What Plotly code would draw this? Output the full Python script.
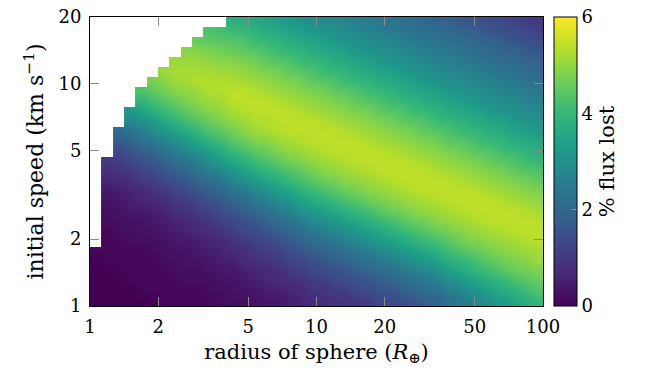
import numpy as np
import plotly.graph_objects as go

N = None  # no data (white region)

# % flux lost, one list per radius column (from R=1 to R=100, log-spaced),
# each listing values from the lowest speed (1 km/s) up to 20 km/s.
c00 = [0.0,0.0,0.0,0.0,0.0,0.1] + [N]*23
c01 = [0.0,0.0,0.0,0.0,0.1,0.1,0.1,0.1,0.2,0.2,0.3,0.4,0.6,0.8,1.0] + [N]*14
c02 = [0.0,0.0,0.0,0.1,0.1,0.1,0.1,0.2,0.2,0.3,0.4,0.5,0.7,0.9,1.1,1.4,1.7,2.1] + [N]*11
c03 = [0.0,0.0,0.1,0.1,0.1,0.1,0.2,0.2,0.3,0.4,0.5,0.6,0.8,1.0,1.3,1.6,1.9,2.3,2.8,3.2] + [N]*9
c04 = [0.0,0.1,0.1,0.1,0.1,0.1,0.2,0.3,0.3,0.4,0.6,0.7,1.0,1.2,1.5,1.8,2.2,2.6,3.0,3.5,3.9,4.3] + [N]*7
c05 = [0.0,0.1,0.1,0.1,0.1,0.2,0.2,0.3,0.4,0.5,0.7,0.9,1.1,1.4,1.7,2.0,2.4,2.9,3.3,3.8,4.2,4.5,4.8] + [N]*6
c06 = [0.1,0.1,0.1,0.1,0.2,0.2,0.3,0.4,0.5,0.6,0.8,1.0,1.3,1.6,1.9,2.3,2.7,3.2,3.6,4.0,4.4,4.7,4.9,5.1] + [N]*5
c07 = [0.1,0.1,0.1,0.2,0.2,0.3,0.4,0.5,0.6,0.8,1.0,1.2,1.5,1.8,2.2,2.6,3.0,3.5,3.9,4.3,4.6,4.9,5.1,5.2,5.1] + [N]*4
c08 = [0.1,0.1,0.2,0.2,0.3,0.3,0.4,0.6,0.7,0.9,1.1,1.4,1.7,2.0,2.4,2.8,3.3,3.7,4.2,4.5,4.8,5.0,5.2,5.2,5.1,4.9] + [N]*3
c09 = [0.1,0.1,0.2,0.2,0.3,0.4,0.5,0.7,0.8,1.1,1.3,1.6,1.9,2.3,2.7,3.1,3.6,4.0,4.4,4.7,5.0,5.1,5.3,5.2,5.1,4.9,4.6] + [N]*2
c10 = [0.1,0.2,0.2,0.3,0.4,0.5,0.6,0.8,1.0,1.2,1.5,1.8,2.1,2.6,3.0,3.4,3.9,4.3,4.6,4.9,5.1,5.3,5.3,5.2,5.0,4.8,4.5,4.3] + [N]
c11 = [0.2,0.2,0.3,0.4,0.5,0.6,0.7,0.9,1.2,1.4,1.7,2.0,2.4,2.8,3.3,3.7,4.1,4.5,4.8,5.0,5.2,5.3,5.3,5.1,4.9,4.7,4.4,4.2] + [N]
c12 = [0.2,0.3,0.3,0.4,0.5,0.7,0.9,1.1,1.3,1.6,1.9,2.3,2.7,3.1,3.6,4.0,4.4,4.7,5.0,5.2,5.4,5.4,5.3,5.1,4.9,4.6,4.4,4.1,3.8]
c13 = [0.2,0.3,0.4,0.5,0.7,0.8,1.0,1.3,1.5,1.8,2.1,2.5,3.0,3.4,3.8,4.2,4.6,4.9,5.1,5.3,5.4,5.4,5.2,5.0,4.8,4.5,4.3,4.0,3.7]
c14 = [0.3,0.4,0.5,0.6,0.8,1.0,1.2,1.4,1.7,2.0,2.4,2.8,3.2,3.7,4.1,4.5,4.8,5.1,5.3,5.4,5.4,5.3,5.1,4.9,4.7,4.4,4.1,3.9,3.6]
c15 = [0.4,0.5,0.6,0.7,0.9,1.1,1.3,1.6,1.9,2.2,2.6,3.0,3.5,3.9,4.3,4.6,4.9,5.2,5.3,5.4,5.4,5.2,5.0,4.8,4.5,4.3,4.0,3.7,3.5]
c16 = [0.4,0.5,0.7,0.8,1.0,1.2,1.5,1.8,2.1,2.5,2.9,3.3,3.7,4.1,4.5,4.8,5.1,5.3,5.4,5.4,5.3,5.1,4.9,4.7,4.4,4.1,3.9,3.6,3.4]
c17 = [0.5,0.6,0.8,1.0,1.2,1.4,1.7,2.0,2.3,2.7,3.1,3.5,4.0,4.3,4.7,5.0,5.2,5.4,5.4,5.4,5.2,5.0,4.8,4.5,4.3,4.0,3.7,3.5,3.2]
c18 = [0.6,0.7,0.9,1.1,1.3,1.6,1.9,2.2,2.5,3.0,3.4,3.8,4.2,4.5,4.8,5.1,5.3,5.4,5.4,5.3,5.1,4.9,4.7,4.4,4.1,3.9,3.6,3.4,3.1]
c19 = [0.7,0.9,1.0,1.3,1.5,1.8,2.1,2.4,2.8,3.2,3.6,4.0,4.4,4.7,5.0,5.2,5.4,5.4,5.4,5.2,5.0,4.8,4.5,4.3,4.0,3.7,3.5,3.2,3.0]
c20 = [0.8,0.9,1.1,1.4,1.6,1.9,2.2,2.6,3.0,3.4,3.8,4.2,4.6,4.9,5.1,5.3,5.4,5.4,5.3,5.1,4.9,4.7,4.4,4.1,3.9,3.6,3.4,3.1,2.9]
c21 = [0.9,1.0,1.3,1.5,1.8,2.1,2.4,2.8,3.2,3.6,4.0,4.4,4.7,5.0,5.2,5.4,5.4,5.4,5.2,5.0,4.8,4.5,4.3,4.0,3.7,3.5,3.2,3.0,2.8]
c22 = [0.9,1.1,1.4,1.6,1.9,2.2,2.6,3.0,3.4,3.8,4.2,4.6,4.9,5.1,5.3,5.4,5.4,5.3,5.1,4.9,4.7,4.4,4.1,3.9,3.6,3.4,3.1,2.9,2.7]
c23 = [1.0,1.3,1.5,1.8,2.1,2.4,2.8,3.2,3.6,4.0,4.4,4.7,5.0,5.2,5.4,5.4,5.4,5.2,5.0,4.8,4.5,4.3,4.0,3.7,3.5,3.2,3.0,2.8,2.6]
c24 = [1.1,1.4,1.6,1.9,2.2,2.6,3.0,3.4,3.8,4.2,4.6,4.9,5.1,5.3,5.4,5.4,5.3,5.1,4.9,4.7,4.4,4.1,3.9,3.6,3.4,3.1,2.9,2.7,2.5]
c25 = [1.3,1.5,1.8,2.1,2.4,2.8,3.2,3.6,4.0,4.4,4.7,5.0,5.2,5.4,5.4,5.4,5.2,5.0,4.8,4.5,4.3,4.0,3.7,3.5,3.2,3.0,2.8,2.6,2.4]
c26 = [1.4,1.6,1.9,2.2,2.6,3.0,3.4,3.8,4.2,4.6,4.9,5.1,5.3,5.4,5.4,5.3,5.1,4.9,4.7,4.4,4.1,3.9,3.6,3.4,3.1,2.9,2.7,2.5,2.3]
c27 = [1.5,1.8,2.1,2.4,2.8,3.2,3.6,4.0,4.4,4.7,5.0,5.2,5.4,5.4,5.4,5.2,5.0,4.8,4.5,4.3,4.0,3.7,3.5,3.2,3.0,2.8,2.6,2.4,2.2]
c28 = [1.6,1.9,2.2,2.6,3.0,3.4,3.8,4.2,4.6,4.9,5.1,5.3,5.4,5.4,5.3,5.1,4.9,4.7,4.4,4.1,3.9,3.6,3.4,3.1,2.9,2.7,2.5,2.3,2.1]
c29 = [1.8,2.1,2.4,2.8,3.2,3.6,4.0,4.4,4.7,5.0,5.2,5.4,5.4,5.4,5.2,5.0,4.8,4.5,4.3,4.0,3.7,3.5,3.2,3.0,2.8,2.6,2.4,2.2,2.0]
c30 = [1.9,2.2,2.6,3.0,3.4,3.8,4.2,4.6,4.9,5.1,5.3,5.4,5.4,5.3,5.1,4.9,4.7,4.4,4.1,3.9,3.6,3.4,3.1,2.9,2.7,2.5,2.3,2.1,1.9]
c31 = [2.2,2.5,2.9,3.3,3.7,4.1,4.4,4.7,5.0,5.2,5.4,5.4,5.4,5.2,5.0,4.8,4.5,4.3,4.0,3.7,3.5,3.2,3.0,2.8,2.6,2.4,2.2,2.0,1.9]
c32 = [2.4,2.7,3.1,3.5,3.9,4.3,4.6,4.9,5.1,5.3,5.4,5.4,5.3,5.1,4.9,4.7,4.4,4.1,3.9,3.6,3.4,3.1,2.9,2.7,2.5,2.3,2.1,1.9,1.7]
c33 = [2.6,3.0,3.4,3.8,4.1,4.5,4.8,5.0,5.2,5.4,5.4,5.4,5.2,5.0,4.8,4.5,4.3,4.0,3.7,3.5,3.2,3.0,2.8,2.6,2.4,2.2,2.0,1.9,1.6]
c34 = [2.8,3.2,3.6,4.0,4.3,4.6,4.9,5.1,5.3,5.4,5.4,5.3,5.1,4.9,4.7,4.4,4.1,3.9,3.6,3.4,3.1,2.9,2.7,2.5,2.3,2.1,1.9,1.7,1.5]
c35 = [3.1,3.5,3.8,4.2,4.5,4.8,5.0,5.2,5.4,5.4,5.4,5.2,5.0,4.8,4.5,4.3,4.0,3.7,3.5,3.2,3.0,2.8,2.6,2.4,2.2,2.0,1.9,1.6,1.4]
c36 = [3.3,3.7,4.0,4.4,4.7,4.9,5.1,5.3,5.4,5.4,5.3,5.1,4.9,4.7,4.4,4.1,3.9,3.6,3.4,3.1,2.9,2.7,2.5,2.3,2.1,1.9,1.7,1.5,1.3]
c37 = [3.5,3.9,4.2,4.6,4.8,5.0,5.2,5.4,5.4,5.4,5.2,5.0,4.8,4.5,4.3,4.0,3.7,3.5,3.2,3.0,2.8,2.6,2.4,2.2,2.0,1.9,1.6,1.4,1.2]
c38 = [3.8,4.1,4.4,4.7,4.9,5.1,5.3,5.4,5.4,5.3,5.1,4.9,4.7,4.4,4.1,3.9,3.6,3.4,3.1,2.9,2.7,2.5,2.3,2.1,1.9,1.7,1.5,1.3,1.1]
c39 = [4.0,4.3,4.6,4.8,5.1,5.2,5.4,5.4,5.4,5.2,5.0,4.8,4.5,4.3,4.0,3.7,3.5,3.2,3.0,2.8,2.6,2.4,2.2,2.0,1.9,1.6,1.4,1.2,1.0]

flux_by_radius = [c00, c01, c02, c03, c04, c05, c06, c07, c08, c09,
                  c10, c11, c12, c13, c14, c15, c16, c17, c18, c19,
                  c20, c21, c22, c23, c24, c25, c26, c27, c28, c29,
                  c30, c31, c32, c33, c34, c35, c36, c37, c38, c39]

n_rows = 29
for i, col in enumerate(flux_by_radius):
    if len(col) != n_rows:
        raise ValueError(f"column {i} has {len(col)} values")

# grid cell edges (log-spaced)
radius_edges = np.logspace(0, 2, len(flux_by_radius) + 1)   # R_earth
speed_edges = 10 ** (0.045 * np.arange(n_rows + 1))         # km/s

x_ticks = [1, 2, 5, 10, 20, 50, 100]
y_ticks = [1, 2, 5, 10, 20]
cbar_ticks = [0, 2, 4, 6]

z = np.array(flux_by_radius, dtype=float).T
z_list = [[None if np.isnan(v) else float(v) for v in row] for row in z]

FONT = "DejaVu Serif"
EPS = 1e-4  # keeps the end ticks (20, 6) inside their ranges

fig = go.Figure(go.Heatmap(
    x=radius_edges, y=speed_edges, z=z_list,
    colorscale="Viridis", zmin=0, zmax=6 + EPS, zsmooth="best",
    colorbar=dict(
        x=1.024, xanchor="left", xpad=0, ypad=0,
        y=0.5, yanchor="middle", len=1, lenmode="fraction",
        thickness=23, thicknessmode="pixels",
        outlinewidth=1, outlinecolor="black",
        tickmode="array",
        tickvals=cbar_ticks, ticktext=[str(t) for t in cbar_ticks],
        ticks="inside", ticklen=5, tickcolor="#999999",
        tickfont=dict(family=FONT, size=18, color="black"),
        title=dict(text="% flux lost", side="right",
                   font=dict(family=FONT, size=21, color="black")),
    ),
))

axis_common = dict(
    type="log", showgrid=False, zeroline=False,
    showline=True, linecolor="black", linewidth=1, mirror="allticks",
    ticks="inside", ticklen=9, tickwidth=1, tickcolor="#8c8c8c",
    tickfont=dict(family=FONT, size=18, color="black"),
)

fig.update_layout(
    width=656, height=376,
    margin=dict(l=90, r=113, t=17, b=70, autoexpand=False),
    paper_bgcolor="white", plot_bgcolor="white",
    xaxis=dict(axis_common, range=[0 - EPS, 2 + EPS], tickmode="array",
               tickvals=x_ticks, ticktext=[str(t) for t in x_ticks],
               ticklabelstandoff=4,
               title=dict(text="radius of sphere (<i>R</i><sub>⊕</sub>)",
                          font=dict(family=FONT, size=21, color="black"),
                          standoff=8)),
    yaxis=dict(axis_common, range=[0 - EPS, np.log10(20) + EPS], tickmode="array",
               tickvals=y_ticks, ticktext=[str(t) for t in y_ticks],
               ticklabelstandoff=4,
               title=dict(text="initial speed (km s<sup>−1</sup>)",
                          font=dict(family=FONT, size=22, color="black"),
                          standoff=8)),
)

# place the figure flush with the window's top-left corner, no mode bar
fig.write_html("out.html",
               config={"displayModeBar": False},
               post_script="document.body.style.margin='0px';")
